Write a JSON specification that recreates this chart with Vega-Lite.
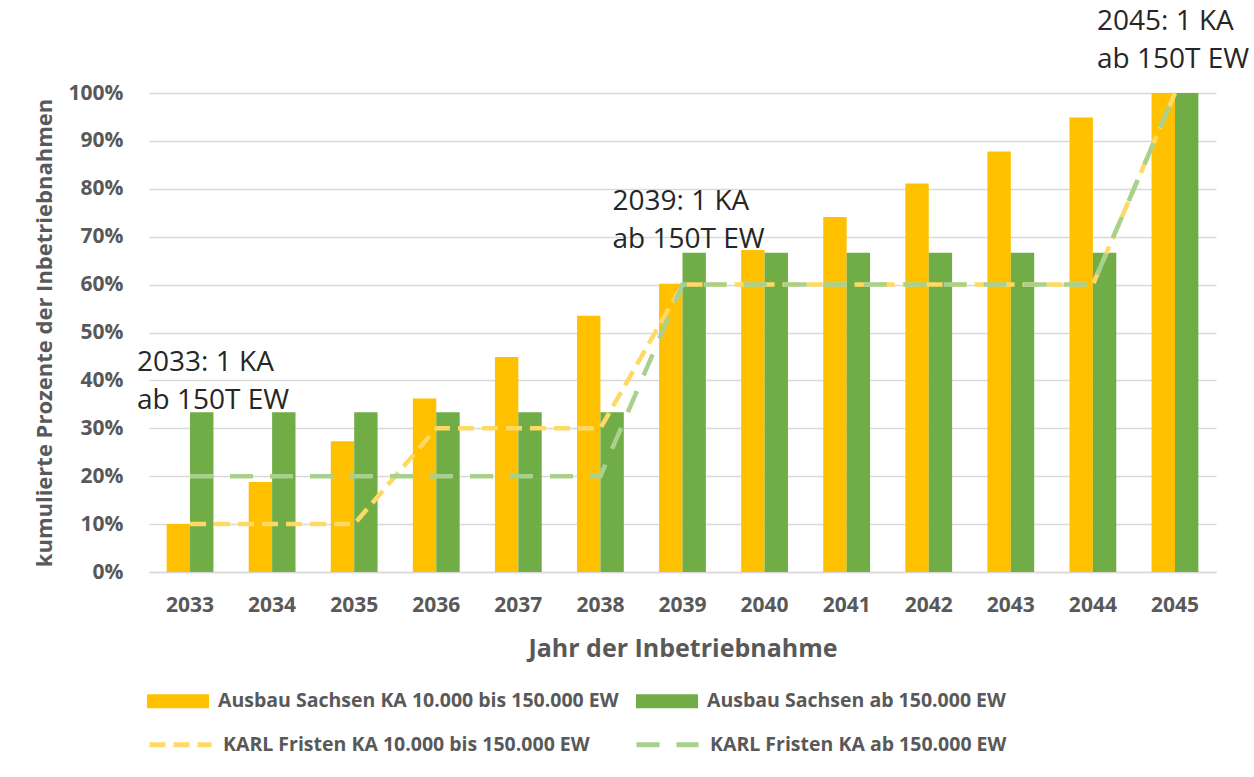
{
  "$schema": "https://vega.github.io/schema/vega-lite/v6.json",
  "width": 1067,
  "height": 479,
  "autosize": {"type": "none"},
  "padding": {"left": 149, "top": 93, "right": 38, "bottom": 205},
  "background": "white",
  "config": {"view": {"stroke": null}, "font": "Open Sans"},
  "datasets": {
    "bars": [
      {"year": "2033", "series": "Ausbau Sachsen KA 10.000 bis 150.000 EW", "value": 0.10},
      {"year": "2034", "series": "Ausbau Sachsen KA 10.000 bis 150.000 EW", "value": 0.188},
      {"year": "2035", "series": "Ausbau Sachsen KA 10.000 bis 150.000 EW", "value": 0.273},
      {"year": "2036", "series": "Ausbau Sachsen KA 10.000 bis 150.000 EW", "value": 0.362},
      {"year": "2037", "series": "Ausbau Sachsen KA 10.000 bis 150.000 EW", "value": 0.449},
      {"year": "2038", "series": "Ausbau Sachsen KA 10.000 bis 150.000 EW", "value": 0.535},
      {"year": "2039", "series": "Ausbau Sachsen KA 10.000 bis 150.000 EW", "value": 0.602},
      {"year": "2040", "series": "Ausbau Sachsen KA 10.000 bis 150.000 EW", "value": 0.672},
      {"year": "2041", "series": "Ausbau Sachsen KA 10.000 bis 150.000 EW", "value": 0.741},
      {"year": "2042", "series": "Ausbau Sachsen KA 10.000 bis 150.000 EW", "value": 0.811},
      {"year": "2043", "series": "Ausbau Sachsen KA 10.000 bis 150.000 EW", "value": 0.878},
      {"year": "2044", "series": "Ausbau Sachsen KA 10.000 bis 150.000 EW", "value": 0.949},
      {"year": "2045", "series": "Ausbau Sachsen KA 10.000 bis 150.000 EW", "value": 1.0},
      {"year": "2033", "series": "Ausbau Sachsen ab 150.000 EW", "value": 0.3333},
      {"year": "2034", "series": "Ausbau Sachsen ab 150.000 EW", "value": 0.3333},
      {"year": "2035", "series": "Ausbau Sachsen ab 150.000 EW", "value": 0.3333},
      {"year": "2036", "series": "Ausbau Sachsen ab 150.000 EW", "value": 0.3333},
      {"year": "2037", "series": "Ausbau Sachsen ab 150.000 EW", "value": 0.3333},
      {"year": "2038", "series": "Ausbau Sachsen ab 150.000 EW", "value": 0.3333},
      {"year": "2039", "series": "Ausbau Sachsen ab 150.000 EW", "value": 0.6667},
      {"year": "2040", "series": "Ausbau Sachsen ab 150.000 EW", "value": 0.6667},
      {"year": "2041", "series": "Ausbau Sachsen ab 150.000 EW", "value": 0.6667},
      {"year": "2042", "series": "Ausbau Sachsen ab 150.000 EW", "value": 0.6667},
      {"year": "2043", "series": "Ausbau Sachsen ab 150.000 EW", "value": 0.6667},
      {"year": "2044", "series": "Ausbau Sachsen ab 150.000 EW", "value": 0.6667},
      {"year": "2045", "series": "Ausbau Sachsen ab 150.000 EW", "value": 1.0}
    ],
    "lines": [
      {"year": "2033", "series": "KARL Fristen KA 10.000 bis 150.000 EW", "value": 0.1},
      {"year": "2034", "series": "KARL Fristen KA 10.000 bis 150.000 EW", "value": 0.1},
      {"year": "2035", "series": "KARL Fristen KA 10.000 bis 150.000 EW", "value": 0.1},
      {"year": "2036", "series": "KARL Fristen KA 10.000 bis 150.000 EW", "value": 0.3},
      {"year": "2037", "series": "KARL Fristen KA 10.000 bis 150.000 EW", "value": 0.3},
      {"year": "2038", "series": "KARL Fristen KA 10.000 bis 150.000 EW", "value": 0.3},
      {"year": "2039", "series": "KARL Fristen KA 10.000 bis 150.000 EW", "value": 0.6},
      {"year": "2040", "series": "KARL Fristen KA 10.000 bis 150.000 EW", "value": 0.6},
      {"year": "2041", "series": "KARL Fristen KA 10.000 bis 150.000 EW", "value": 0.6},
      {"year": "2042", "series": "KARL Fristen KA 10.000 bis 150.000 EW", "value": 0.6},
      {"year": "2043", "series": "KARL Fristen KA 10.000 bis 150.000 EW", "value": 0.6},
      {"year": "2044", "series": "KARL Fristen KA 10.000 bis 150.000 EW", "value": 0.6},
      {"year": "2045", "series": "KARL Fristen KA 10.000 bis 150.000 EW", "value": 1.0},
      {"year": "2033", "series": "KARL Fristen KA ab 150.000 EW", "value": 0.2},
      {"year": "2034", "series": "KARL Fristen KA ab 150.000 EW", "value": 0.2},
      {"year": "2035", "series": "KARL Fristen KA ab 150.000 EW", "value": 0.2},
      {"year": "2036", "series": "KARL Fristen KA ab 150.000 EW", "value": 0.2},
      {"year": "2037", "series": "KARL Fristen KA ab 150.000 EW", "value": 0.2},
      {"year": "2038", "series": "KARL Fristen KA ab 150.000 EW", "value": 0.2},
      {"year": "2039", "series": "KARL Fristen KA ab 150.000 EW", "value": 0.6},
      {"year": "2040", "series": "KARL Fristen KA ab 150.000 EW", "value": 0.6},
      {"year": "2041", "series": "KARL Fristen KA ab 150.000 EW", "value": 0.6},
      {"year": "2042", "series": "KARL Fristen KA ab 150.000 EW", "value": 0.6},
      {"year": "2043", "series": "KARL Fristen KA ab 150.000 EW", "value": 0.6},
      {"year": "2044", "series": "KARL Fristen KA ab 150.000 EW", "value": 0.6},
      {"year": "2045", "series": "KARL Fristen KA ab 150.000 EW", "value": 1.0}
    ],
    "notes": [
      {"year": "2033", "level": 0.42, "text": ["2033: 1 KA", "ab 150T EW"]},
      {"year": "2039", "level": 0.756, "text": ["2039: 1 KA", "ab 150T EW"]},
      {"year": "2045", "level": 1.131, "text": ["2045: 1 KA", "ab 150T EW"]}
    ]
  },
  "encoding": {
    "x": {
      "field": "year", "type": "ordinal",
      "scale": {"paddingInner": 0.43, "paddingOuter": 0.215},
      "title": "Jahr der Inbetriebnahme",
      "axis": {
        "labelAngle": 0, "labelFontSize": 21, "labelFontWeight": "bold", "labelColor": "#595959",
        "labelPadding": 22, "ticks": false, "domainColor": "#d9d9d9", "domainWidth": 1.5,
        "titleFontSize": 25, "titleFontWeight": "bold", "titleColor": "#595959", "titlePadding": 21
      }
    },
    "y": {
      "field": "value", "type": "quantitative",
      "scale": {"domain": [0, 1], "nice": false},
      "title": "kumulierte Prozente der Inbetriebnahmen",
      "axis": {
        "format": ".0%", "values": [0, 0.1, 0.2, 0.3, 0.4, 0.5, 0.6, 0.7, 0.8, 0.9, 1.0],
        "domain": false, "ticks": false, "gridColor": "#d9d9d9", "gridWidth": 1.3,
        "labelFontSize": 21, "labelFontWeight": "bold", "labelColor": "#595959", "labelPadding": 26,
        "titleFontSize": 22, "titleFontWeight": "bold", "titleColor": "#595959", "titlePadding": 12
      }
    }
  },
  "layer": [
    {
      "data": {"name": "bars"},
      "mark": {"type": "bar"},
      "encoding": {
        "xOffset": {"field": "series", "sort": ["Ausbau Sachsen KA 10.000 bis 150.000 EW", "Ausbau Sachsen ab 150.000 EW"]},
        "fill": {
          "field": "series", "type": "nominal",
          "scale": {"domain": ["Ausbau Sachsen KA 10.000 bis 150.000 EW", "Ausbau Sachsen ab 150.000 EW"], "range": ["#FFC000", "#70AD47"]},
          "legend": {
            "orient": "none", "legendX": -2, "legendY": 577, "direction": "horizontal", "columns": 2,
            "title": null, "symbolType": "M-1,-0.226H1V0.226H-1Z", "symbolSize": 3844, "symbolOpacity": 1,
            "symbolStrokeWidth": 0, "labelFontSize": 19.5, "labelFontWeight": "bold", "labelColor": "#595959",
            "labelOffset": 9, "columnPadding": 17, "labelLimit": 0
          }
        }
      }
    },
    {
      "data": {"name": "lines"},
      "mark": {"type": "line", "strokeWidth": 4.5, "strokeCap": "butt"},
      "encoding": {
        "stroke": {
          "field": "series", "type": "nominal",
          "scale": {"domain": ["KARL Fristen KA 10.000 bis 150.000 EW", "KARL Fristen KA ab 150.000 EW"], "range": ["#FFD966", "#A9D18E"]},
          "legend": {
            "orient": "none", "legendX": -2, "legendY": 618, "direction": "horizontal", "columns": 2,
            "title": null, "symbolType": "stroke", "symbolSize": 3844, "symbolStrokeWidth": 5,
            "symbolDash": [12, 6], "symbolOpacity": 1, "labelFontSize": 19.5, "labelFontWeight": "bold",
            "labelColor": "#595959", "labelOffset": 9, "columnPadding": 36, "labelLimit": 0
          }
        },
        "strokeDash": {
          "field": "series", "type": "nominal",
          "scale": {"domain": ["KARL Fristen KA 10.000 bis 150.000 EW", "KARL Fristen KA ab 150.000 EW"], "range": [[16, 8], [23, 17]]},
          "legend": null
        }
      }
    },
    {
      "data": {"name": "notes"},
      "transform": [{"filter": "datum.year == '2033'"}],
      "mark": {"type": "text", "align": "left", "baseline": "alphabetic", "dx": -53, "fontSize": 28, "lineHeight": 38, "color": "#262626"},
      "encoding": {"y": {"field": "level", "type": "quantitative"}, "text": {"field": "text"}}
    },
    {
      "data": {"name": "notes"},
      "transform": [{"filter": "datum.year == '2039'"}],
      "mark": {"type": "text", "align": "left", "baseline": "alphabetic", "dx": -70, "fontSize": 28, "lineHeight": 38, "color": "#262626"},
      "encoding": {"y": {"field": "level", "type": "quantitative"}, "text": {"field": "text"}}
    },
    {
      "data": {"name": "notes"},
      "transform": [{"filter": "datum.year == '2045'"}],
      "mark": {"type": "text", "align": "left", "baseline": "alphabetic", "dx": -78, "fontSize": 28, "lineHeight": 38, "color": "#262626"},
      "encoding": {"y": {"field": "level", "type": "quantitative"}, "text": {"field": "text"}}
    }
  ]
}
